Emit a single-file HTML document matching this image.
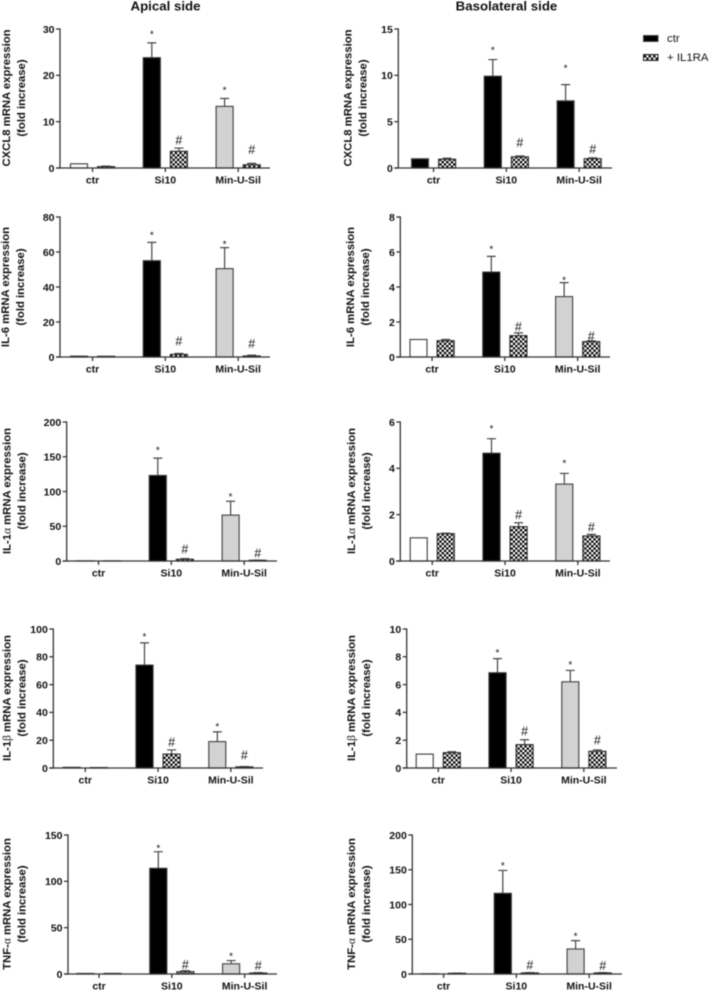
<!DOCTYPE html>
<html lang="en">
<head>
<meta charset="utf-8">
<title>mRNA expression, apical and basolateral side</title>
<style>
html,body{margin:0;padding:0;background:#fff;}
svg{display:block;font-family:"Liberation Sans",sans-serif;filter:blur(0.4px);}
.tick{font-size:10.5px;font-weight:bold;fill:#111;}
.yt{font-size:11.3px;font-weight:bold;fill:#111;}
.head{font-size:13.25px;font-weight:bold;fill:#111;}
.leg{font-size:11.4px;fill:#111;}
.star{font-size:10px;fill:#111;}
.hash{font-size:12.5px;fill:#111;}
</style>
</head>
<body>
<svg id="fig" width="709" height="991" viewBox="0 0 709 991" xmlns="http://www.w3.org/2000/svg">
  <defs>
    <pattern id="chk" width="4.6" height="4.6" patternUnits="userSpaceOnUse">
      <rect width="4.6" height="4.6" fill="#fff"/>
      <rect width="2.3" height="2.3" fill="#000"/>
      <rect x="2.3" y="2.3" width="2.3" height="2.3" fill="#000"/>
    </pattern>
  </defs>
  <text class="head" x="165.5" y="10.5" text-anchor="middle">Apical side</text>
  <text class="head" x="506.5" y="10.5" text-anchor="middle">Basolateral side</text>
  <g>
    <g>
      <rect x="643.5" y="35.5" width="14.5" height="6" fill="#000" stroke="#444" stroke-width="1"/>
      <text class="leg" x="667" y="42">ctr</text>
    </g>
    <g>
      <rect x="643.5" y="54.5" width="14.5" height="6" fill="url(#chk)" stroke="#222" stroke-width="1"/>
      <text class="leg" x="667" y="61">+ IL1RA</text>
    </g>
  </g>
</svg>
<script>
// Shared categories
const categories = ["ctr", "Si10", "Min-U-Sil"];
const seriesNames = ["ctr", "IL1RA"];

// Tick labels
const ticksApicalCxcl8 = [0, 10, 20, 30];
const ticksApicalIl6 = [0, 20, 40, 60, 80];
const ticksApicalIl1a = [0, 50, 100, 150, 200];
const ticksApicalIl1b = [0, 20, 40, 60, 80, 100];
const ticksApicalTnfa = [0, 50, 100, 150];
const ticksBasoCxcl8 = [0, 5, 10, 15];
const ticksBasoIl6 = [0, 2, 4, 6, 8];
const ticksBasoIl1a = [0, 2, 4, 6];
const ticksBasoIl1b = [0, 2, 4, 6, 8, 10];
const ticksBasoTnfa = [0, 50, 100, 150, 200];

// Series values: [ctr, Si10, Min-U-Sil]; "Top" is the top of the error bar
const apicalCxcl8Ctr = [0.9, 23.8, 13.3];
const apicalCxcl8CtrTop = [0.9, 27, 15];
const apicalCxcl8Ra = [0.3, 3.6, 0.7];
const apicalCxcl8RaTop = [0.4, 4.3, 1];

const apicalIl6Ctr = [0.5, 55, 50.5];
const apicalIl6CtrTop = [0.5, 65.5, 62.5];
const apicalIl6Ra = [0.4, 1.5, 0.6];
const apicalIl6RaTop = [0.4, 2, 1];

const apicalIl1aCtr = [0.2, 123, 66];
const apicalIl1aCtrTop = [0.2, 148, 86];
const apicalIl1aRa = [0.2, 2.5, 1];
const apicalIl1aRaTop = [0.2, 3.5, 1.2];

const apicalIl1bCtr = [0.5, 74, 19];
const apicalIl1bCtrTop = [0.5, 90, 26];
const apicalIl1bRa = [0.3, 10, 0.8];
const apicalIl1bRaTop = [0.3, 13, 1];

const apicalTnfaCtr = [0.6, 114, 11];
const apicalTnfaCtrTop = [0.6, 132, 14.5];
const apicalTnfaRa = [0.6, 2.5, 1];
const apicalTnfaRaTop = [0.6, 3.5, 1.5];

const basoCxcl8Ctr = [1, 9.9, 7.25];
const basoCxcl8CtrTop = [1, 11.7, 9];
const basoCxcl8Ra = [0.95, 1.2, 1];
const basoCxcl8RaTop = [1.05, 1.3, 1.1];

const basoIl6Ctr = [1, 4.85, 3.45];
const basoIl6CtrTop = [1, 5.75, 4.25];
const basoIl6Ra = [0.93, 1.22, 0.88];
const basoIl6RaTop = [1, 1.38, 0.92];

const basoIl1aCtr = [1, 4.65, 3.32];
const basoIl1aCtrTop = [1, 5.28, 3.78];
const basoIl1aRa = [1.18, 1.48, 1.08];
const basoIl1aRaTop = [1.2, 1.65, 1.15];

const basoIl1bCtr = [1, 6.85, 6.2];
const basoIl1bCtrTop = [1, 7.87, 7.02];
const basoIl1bRa = [1.1, 1.68, 1.2];
const basoIl1bRaTop = [1.17, 2.03, 1.3];

const basoTnfaCtr = [0.3, 116, 36];
const basoTnfaCtrTop = [0.3, 149, 48];
const basoTnfaRa = [1, 1.5, 1.5];
const basoTnfaRaTop = [1.2, 2, 2];

// Panels bind the arrays above to their frame on the page
const panels = [
  {key:"apical-cxcl8", pre:"CXCL8", greek:"", post:" mRNA expression", x0:60, top:29, bot:168, end:270, first:79, tx:6, ty:98,
   ticks:ticksApicalCxcl8, ctr:apicalCxcl8Ctr, ctrTop:apicalCxcl8CtrTop, ra:apicalCxcl8Ra, raTop:apicalCxcl8RaTop, dark:false,
   gaps:[10.3,10,8,13.7]},
  {key:"apical-il6", pre:"IL-6", greek:"", post:" mRNA expression", x0:60, top:217, bot:357, end:270, first:79, tx:5, ty:287,
   ticks:ticksApicalIl6, ctr:apicalIl6Ctr, ctrTop:apicalIl6CtrTop, ra:apicalIl6Ra, raTop:apicalIl6RaTop, dark:false,
   gaps:[9,5.3,12,11.3]},
  {key:"apical-il1a", pre:"IL-1", greek:"\u03B1", post:" mRNA expression", x0:66.7, top:422, bot:561, end:277, first:85, tx:6.7, ty:491,
   ticks:ticksApicalIl1a, ctr:apicalIl1aCtr, ctrTop:apicalIl1aCtrTop, ra:apicalIl1aRa, raTop:apicalIl1aRaTop, dark:false,
   gaps:[9.7,6.3,9.3,7]},
  {key:"apical-il1b", pre:"IL-1", greek:"\u03B2", post:" mRNA expression", x0:53.3, top:629, bot:768, end:263, first:71.7, tx:6.7, ty:698,
   ticks:ticksApicalIl1b, ctr:apicalIl1bCtr, ctrTop:apicalIl1bCtrTop, ra:apicalIl1bRa, raTop:apicalIl1bRaTop, dark:false,
   gaps:[8,6.7,7.7,11.3]},
  {key:"apical-tnfa", pre:"TNF-", greek:"\u03B1", post:" mRNA expression", x0:68, top:835, bot:974, end:277, first:85.5, tx:6.7, ty:904,
   ticks:ticksApicalTnfa, ctr:apicalTnfaCtr, ctrTop:apicalTnfaCtrTop, ra:apicalTnfaRa, raTop:apicalTnfaRaTop, dark:false,
   gaps:[5.3,6.3,6,7]},
  {key:"baso-cxcl8", pre:"CXCL8", greek:"", post:" mRNA expression", x0:398.3, top:29, bot:168, end:612, first:420, tx:347.3, ty:98,
   ticks:ticksBasoCxcl8, ctr:basoCxcl8Ctr, ctrTop:basoCxcl8CtrTop, ra:basoCxcl8Ra, raTop:basoCxcl8RaTop, dark:true,
   gaps:[11,18.3,13.3,8.7]},
  {key:"baso-il6", pre:"IL-6", greek:"", post:" mRNA expression", x0:400.3, top:217, bot:357, end:610, first:418.5, tx:350, ty:287,
   ticks:ticksBasoIl6, ctr:basoIl6Ctr, ctrTop:basoIl6CtrTop, ra:basoIl6Ra, raTop:basoIl6RaTop, dark:false,
   gaps:[9,4.3,6,4.7]},
  {key:"baso-il1a", pre:"IL-1", greek:"\u03B1", post:" mRNA expression", x0:400.3, top:422, bot:561, end:610, first:418.7, tx:351, ty:491,
   ticks:ticksBasoIl1a, ctr:basoIl1aCtr, ctrTop:basoIl1aCtrTop, ra:basoIl1aRa, raTop:basoIl1aRaTop, dark:false,
   gaps:[11.7,11.7,8,7.3]},
  {key:"baso-il1b", pre:"IL-1", greek:"\u03B2", post:" mRNA expression", x0:406.7, top:629, bot:768, end:617, first:424.7, tx:351, ty:698,
   ticks:ticksBasoIl1b, ctr:basoIl1bCtr, ctrTop:basoIl1bCtrTop, ra:basoIl1bRa, raTop:basoIl1bRaTop, dark:false,
   gaps:[7.7,7.3,8.7,9.7]},
  {key:"baso-tnfa", pre:"TNF-", greek:"\u03B1", post:" mRNA expression", x0:412.3, top:835, bot:974, end:622, first:430, tx:351, ty:904,
   ticks:ticksBasoTnfa, ctr:basoTnfaCtr, ctrTop:basoTnfaCtrTop, ra:basoTnfaRa, raTop:basoTnfaRaTop, dark:false,
   gaps:[6.3,6,7.3,7]}
];

const NS = "http://www.w3.org/2000/svg";
const fig = document.getElementById("fig");
const AXIS = "#333";
const EDGE = "#4a4a4a";
const GROUP_STEP = 72.8;
const PAIR_STEP = 27.1;
const BAR_W = 17;

function make(tag, attrs, parent) {
  const el = document.createElementNS(NS, tag);
  for (const k in attrs) el.setAttribute(k, attrs[k]);
  parent.appendChild(el);
  return el;
}

function drawPanel(p) {
  const maxV = p.ticks[p.ticks.length - 1];
  const yOf = v => p.bot - (v / maxV) * (p.bot - p.top);
  const xOf = (g, s) => p.first + g * GROUP_STEP + s * PAIR_STEP;

  const g = make("g", {}, fig);
  
  

  // y-axis title (two lines)
  const t1 = make("text", {class:"yt", "text-anchor":"middle", transform:"translate(" + (p.tx + 4) + "," + p.ty + ") rotate(-90)"}, g);
  
  
  t1.appendChild(document.createTextNode(p.pre));
  if (p.greek) {
    const gr = make("tspan", {"font-family":'"Liberation Serif",serif', "font-weight":"normal"}, t1);
    gr.textContent = p.greek;
  }
  t1.appendChild(document.createTextNode(p.post));
  const t2 = make("text", {class:"yt", "text-anchor":"middle", transform:"translate(" + (p.tx + 19) + "," + p.ty + ") rotate(-90)"}, g);
  
  
  t2.textContent = "(fold increase)";

  // bars and error bars
  categories.forEach((cat, c) => {
    seriesNames.forEach((sn, s) => {
      const v = s === 0 ? p.ctr[c] : p.ra[c];
      const top = s === 0 ? p.ctrTop[c] : p.raTop[c];
      const cx = xOf(c, s);
      if (top > v) {
        const eb = make("path", {
          d:"M" + cx + " " + yOf(v) + "V" + yOf(top) + "M" + (cx - 4.5) + " " + yOf(top) + "H" + (cx + 4.5),
          fill:"none", stroke:"#444", "stroke-width":1.2
        }, g);
        
        
      }
      let fill = "url(#chk)";
      if (s === 0) {
        if (p.dark) fill = "#000";
        else fill = c === 0 ? "#fff" : c === 1 ? "#000" : "#d2d2d2";
      }
      const bar = make("rect", {
        x:cx - BAR_W / 2, y:yOf(v), width:BAR_W, height:Math.max(p.bot - yOf(v), 0),
        fill:fill, stroke:(s === 1 || (s === 0 && c === 1)) ? "#333" : EDGE, "stroke-width":1.2
      }, g);
      
      
    });
  });

  // significance marks over Si10 and Min-U-Sil
  [1, 2].forEach((c, i) => {
    const sx = xOf(c, 0);
    const st = make("text", {class:"star", x:sx, y:yOf(p.ctrTop[c]) - p.gaps[i] + 5, "text-anchor":"middle"}, g);
    
    
    st.textContent = "*";
    const hx = xOf(c, 1);
    const ha = make("text", {class:"hash", x:hx, y:yOf(p.raTop[c]) - p.gaps[i + 2] + 4.2, "text-anchor":"middle"}, g);
    
    
    ha.textContent = "#";
  });

  // axes
  const ya = make("line", {x1:p.x0, x2:p.x0, y1:p.top - 0.6, y2:p.bot + 0.6, stroke:AXIS, "stroke-width":1.3}, g);
  
  
  const xa = make("line", {x1:p.x0 - 4, x2:p.end, y1:p.bot, y2:p.bot, stroke:AXIS, "stroke-width":1.3}, g);
  
  

  p.ticks.forEach(tv => {
    const ty = yOf(tv);
    const tk = make("line", {x1:p.x0 - 4, x2:p.x0, y1:ty, y2:ty, stroke:AXIS, "stroke-width":1.3}, g);
    
    
    const lb = make("text", {class:"tick", x:p.x0 - 5.5, y:ty + 3.8, "text-anchor":"end"}, g);
    
    
    lb.textContent = tv;
  });

  categories.forEach((cat, c) => {
    const gx = (xOf(c, 0) + xOf(c, 1)) / 2;
    const tk = make("line", {x1:gx, x2:gx, y1:p.bot, y2:p.bot + 4, stroke:AXIS, "stroke-width":1.3}, g);
    
    
    const lb = make("text", {class:"tick", x:gx, y:p.bot + 15.6, "text-anchor":"middle"}, g);
    
    
    lb.textContent = cat;
  });
}

panels.forEach(drawPanel);
</script>
</body>
</html>
